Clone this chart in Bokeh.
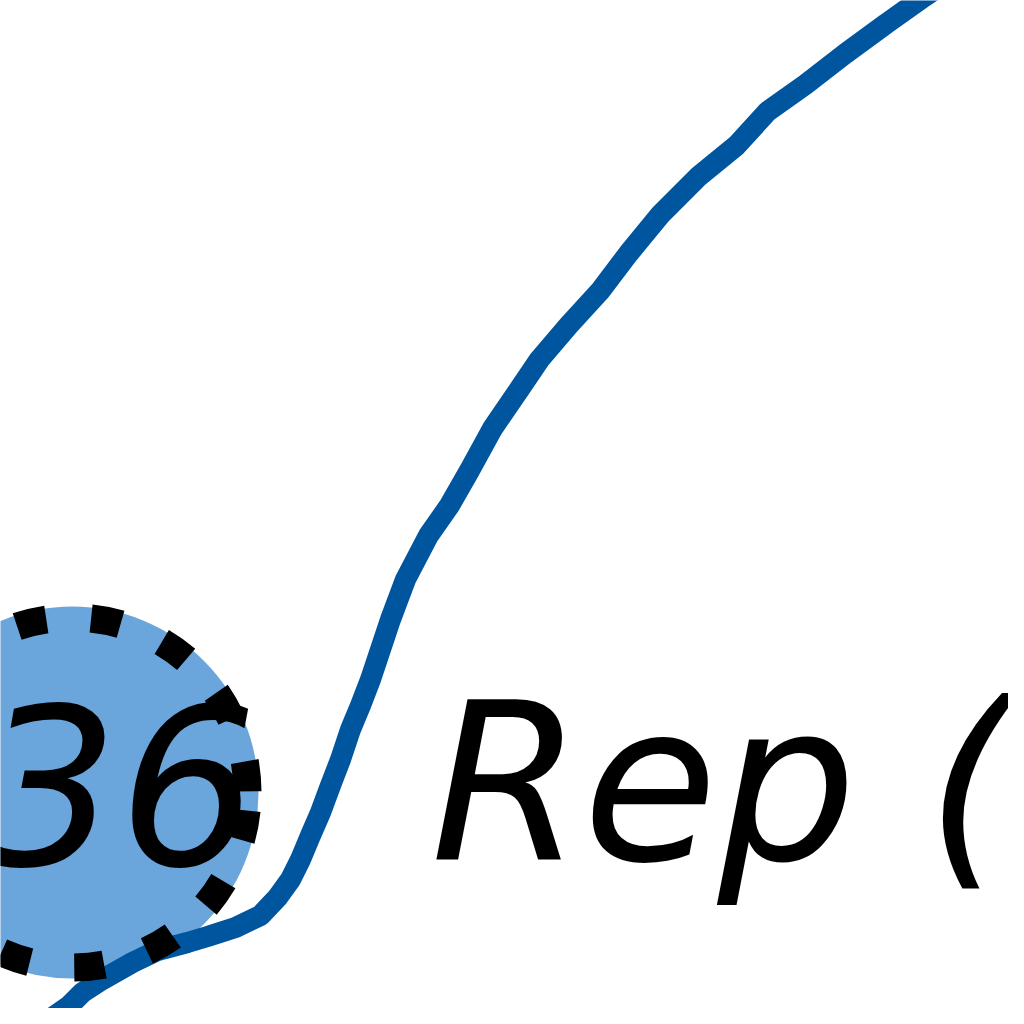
from bokeh.core.properties import value
from bokeh.embed import file_html
from bokeh.models import Range1d
from bokeh.plotting import figure
from bokeh.resources import INLINE

# curve (screen pixels)
curve_x = [60, 77, 90, 110, 140, 165, 195, 215, 243, 268, 285, 298, 308, 318,
           328, 338, 348, 358, 368, 378, 388, 398, 413, 436, 457, 477, 500,
           526, 547, 576, 608, 636, 668, 706, 744, 775, 813, 853, 894, 932, 950]
curve_y = [1025, 1013, 1000, 987, 970, 958, 950, 944, 935, 923, 905, 887, 867,
           843, 820, 793, 767, 737, 713, 687, 657, 627, 587, 543, 513, 478,
           436, 398, 367, 333, 298, 261, 222, 184, 153, 119, 92, 61, 31, 4, -8]

bubble_x = [80]
bubble_y = [800]
bubble_label = ["36"]
series_label = ["Rep ("]

p = figure(width=1008, height=1008, output_backend="svg", toolbar_location=None,
           x_range=Range1d(8, 1016), y_range=Range1d(1016, 8),
           x_axis_location=None, y_axis_location=None, min_border=0)
p.grid.grid_line_color = None
p.outline_line_color = None

p.circle(bubble_x, bubble_y, radius=186, fill_color="#6aa5dc", line_color=None)

p.line(curve_x, curve_y, line_color="#00559f", line_width=21)

p.circle(bubble_x, bubble_y, radius=175, fill_color=None, line_color="black",
         line_width=28, line_dash="30 45", line_dash_offset=57)

p.text([126], [792], text=bubble_label, text_align="center",
       text_baseline="alphabetic", text_color="black",
       text_font=value("DejaVu Sans"), text_font_style="italic",
       text_font_size="219px")

p.text([438], [792], text=series_label, text_align="left",
       text_baseline="alphabetic", text_color="black",
       text_font=value("DejaVu Sans"), text_font_style="italic",
       text_font_size="219px")

open("out.html", "w").write(file_html(p, INLINE))
